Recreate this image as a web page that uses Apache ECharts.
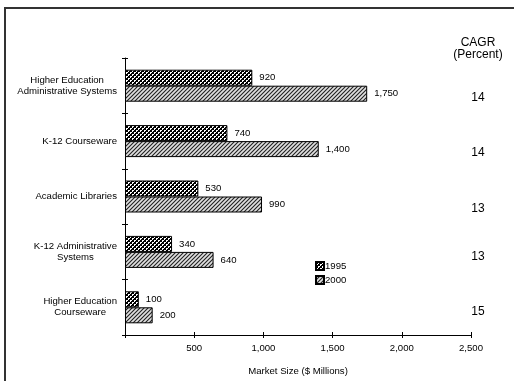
<!DOCTYPE html>
<html>
<head>
<meta charset="utf-8">
<script src="https://cdn.jsdelivr.net/npm/echarts@6/dist/echarts.min.js"></script>
<style>
html,body{margin:0;padding:0;background:#fff;}
#c{width:524px;height:381px;}
</style>
</head>
<body>
<div id="c"></div>
<script>
const categories = ['Higher Education\nAdministrative Systems', 'K-12 Courseware', 'Academic Libraries', 'K-12 Administrative\nSystems', 'Higher Education\nCourseware'];
const values1995 = [920, 740, 530, 340, 100];
const values2000 = [1750, 1400, 990, 640, 200];
const cagr = ['14', '14', '13', '13', '15'];
const xTicks = [0, 500, 1000, 1500, 2000, 2500];

function makeCross() {
  const c = document.createElement('canvas');
  c.width = 4; c.height = 4;
  const g = c.getContext('2d');
  g.fillStyle = '#ffffff'; g.fillRect(0, 0, 4, 4);
  g.fillStyle = '#000000';
  for (let x = 0; x < 4; x++) for (let y = 0; y < 4; y++) {
    if ((x + y) % 4 === 0 || ((x - y) % 4 + 4) % 4 === 0 || (x + y) % 4 === 1) g.fillRect(x, y, 1, 1);
  }
  return c;
}
function makeDiag() {
  const c = document.createElement('canvas');
  c.width = 4; c.height = 4;
  const g = c.getContext('2d');
  g.fillStyle = '#a8a8a8'; g.fillRect(0, 0, 4, 4);
  g.fillStyle = '#2a2a2a';
  for (let x = 0; x < 4; x++) for (let y = 0; y < 4; y++) {
    if ((x + y) % 4 === 3) g.fillRect(x, y, 1, 1);
  }
  g.fillStyle = '#e0e0e0';
  for (let x = 0; x < 4; x++) for (let y = 0; y < 4; y++) {
    if ((x + y) % 4 === 1) g.fillRect(x, y, 1, 1);
  }
  return c;
}
const pat1995 = { image: makeCross(), repeat: 'repeat' };
const pat2000 = { image: makeDiag(), repeat: 'repeat' };

const font = 'Liberation Sans, Arial, sans-serif';
const fs = 9.6;
const chart = echarts.init(document.getElementById('c'), null, { renderer: 'canvas' });

function fmt(v) { return echarts.format.addCommas(v); }

chart.setOption({
  animation: false,
  textStyle: { fontFamily: font, color: '#000' },
  grid: { left: 125, right: 53, top: 58, bottom: 45, containLabel: false },
  legend: {
    orient: 'vertical', left: 315, top: 261, padding: 0,
    itemWidth: 8, itemHeight: 8, itemGap: 4, icon: 'rect',
    textStyle: { fontSize: fs, fontFamily: font, color: '#000', padding: [0, 0, 0, -4] },
    data: ['1995', '2000']
  },
  xAxis: [{
    type: 'value', min: 0, max: 2500, interval: 500,
    axisLine: { show: true, lineStyle: { color: '#000', width: 1 } },
    axisTick: { show: true, length: 3, lineStyle: { color: '#000' } },
    axisLabel: { fontSize: fs, color: '#000', margin: 8, fontFamily: font,
      formatter: v => v === 0 ? '' : fmt(v) },
    splitLine: { show: false },
    name: 'Market Size ($ Millions)', nameLocation: 'middle', nameGap: 31,
    nameTextStyle: { fontSize: fs, color: '#000', fontFamily: font }
  }, {
    type: 'value', min: 0, max: 2500, interval: 500, position: 'bottom',
    axisLine: { show: false },
    axisTick: { show: true, inside: true, length: 3, lineStyle: { color: '#000' } },
    axisLabel: { show: false }, splitLine: { show: false }
  }],
  yAxis: [{
    type: 'category', data: categories, inverse: true,
    axisLine: { show: true, lineStyle: { color: '#000', width: 1 } },
    axisTick: { show: true, length: 3, lineStyle: { color: '#000' } },
    axisLabel: {
      fontSize: fs, color: '#000', margin: 8, lineHeight: 11, fontFamily: font, align: 'right',
      formatter: v => v.split('\n').map(s => '{c|' + s + '}').join('\n'),
      rich: { c: { align: 'center', fontSize: fs, lineHeight: 11, fontFamily: font, color: '#000' } }
    }
  }, {
    type: 'category', data: categories, inverse: true, position: 'left',
    axisLine: { show: false },
    axisTick: { show: true, inside: true, length: 3, lineStyle: { color: '#000' } },
    axisLabel: { show: false }
  }, {
    type: 'category', data: cagr, inverse: true, position: 'right',
    axisLine: { show: false }, axisTick: { show: false },
    axisLabel: {
      fontSize: 12, color: '#000', margin: 7, align: 'center', verticalAlign: 'top', fontFamily: font,
      formatter: (v, i) => (i < 3 ? '{lo|' : '{hi|') + v + '}',
      rich: {
        lo: { fontSize: 12, lineHeight: 24, fontFamily: font, color: '#000' },
        hi: { fontSize: 12, lineHeight: 9, fontFamily: font, color: '#000' }
      }
    }
  }],
  series: [{
    name: '1995', type: 'bar', data: values1995, barWidth: 16, barGap: '0%',
    itemStyle: { color: pat1995, borderColor: '#000', borderWidth: 1 },
    label: { show: true, position: 'right', distance: 7, fontSize: fs, color: '#000', fontFamily: font, formatter: p => fmt(p.value) }
  }, {
    name: '2000', type: 'bar', data: values2000, barWidth: 16, barGap: '0%',
    itemStyle: { color: pat2000, borderColor: '#000', borderWidth: 1 },
    label: { show: true, position: 'right', distance: 7, fontSize: fs, color: '#000', fontFamily: font, formatter: p => fmt(p.value) }
  }],
  graphic: [
    { type: 'polyline', shape: { points: [[5, 381], [5, 8], [514, 8]] }, style: { stroke: '#333', lineWidth: 2, fill: null } },
    { type: 'text', x: 478, y: 43, style: { text: 'CAGR', fontSize: 12, fontFamily: font, fill: '#000', align: 'center', verticalAlign: 'middle' } },
    { type: 'text', x: 478, y: 55, style: { text: '(Percent)', fontSize: 12, fontFamily: font, fill: '#000', align: 'center', verticalAlign: 'middle' } }
  ]
});
</script>
</body>
</html>
